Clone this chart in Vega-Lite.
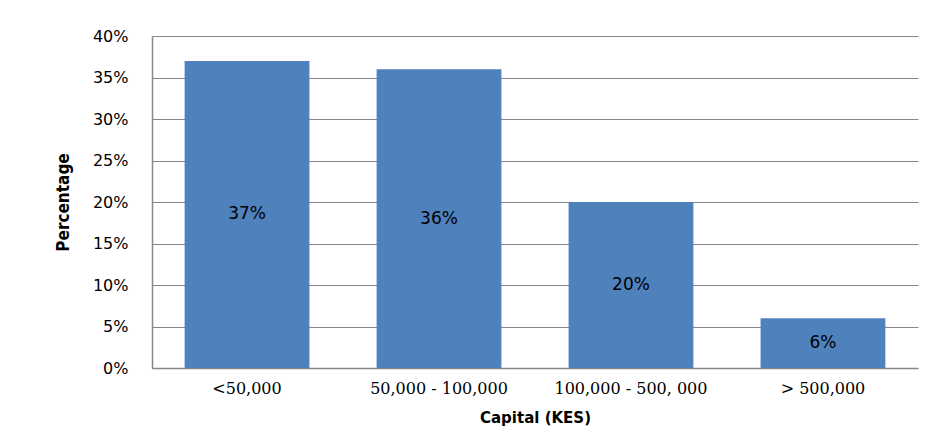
{
  "$schema": "https://vega.github.io/schema/vega-lite/v6.json",
  "autosize": "none",
  "width": 766,
  "height": 332,
  "padding": {"left": 152, "top": 36, "right": 15, "bottom": 80},
  "background": "white",
  "config": {"view": {"stroke": null}},
  "data": {"values": [
    {"capital": "<50,000", "pct": 0.37},
    {"capital": "50,000 - 100,000", "pct": 0.36},
    {"capital": "100,000 - 500, 000", "pct": 0.20},
    {"capital": "> 500,000", "pct": 0.06}
  ]},
  "encoding": {
    "x": {"field": "capital", "type": "nominal", "sort": null,
      "scale": {"paddingInner": 0.35, "paddingOuter": 0.17},
      "axis": {"title": "Capital (KES)", "labelAngle": 0, "labelFont": "DejaVu Serif", "labelFontSize": 16, "labelColor": "black", "labelPadding": 12, "ticks": false, "domainColor": "#868686", "domainWidth": 1.5,
        "titleFont": "DejaVu Sans", "titleFontSize": 15, "titleFontWeight": "bold", "titleColor": "black", "titlePadding": 14}}
  },
  "layer": [
    {"mark": {"type": "bar", "color": "#4F81BD"},
      "encoding": {"y": {"field": "pct", "type": "quantitative",
      "scale": {"domain": [0, 0.4]},
      "axis": {"title": "Percentage", "format": ".0%", "values": [0, 0.05, 0.1, 0.15, 0.2, 0.25, 0.3, 0.35, 0.4], "ticks": false, "labelPadding": 24, "labelFont": "DejaVu Sans", "labelFontSize": 16, "labelColor": "black",
        "domainColor": "#868686", "domainWidth": 1.5, "gridColor": "#868686", "gridWidth": 1, "gridOpacity": 1,
        "titleFont": "DejaVu Sans Condensed", "titleFontSize": 17, "titleFontWeight": "bold", "titleColor": "black", "titlePadding": 20}}}},
    {"mark": {"type": "text", "font": "DejaVu Sans", "fontSize": 17, "color": "black", "baseline": "middle"},
      "encoding": {"y": {"field": "pct", "type": "quantitative", "scale": {"domain": [0, 0.8]}, "axis": null}, "text": {"field": "pct", "format": ".0%"}}}
  ],
  "resolve": {"scale": {"y": "independent"}}
}
